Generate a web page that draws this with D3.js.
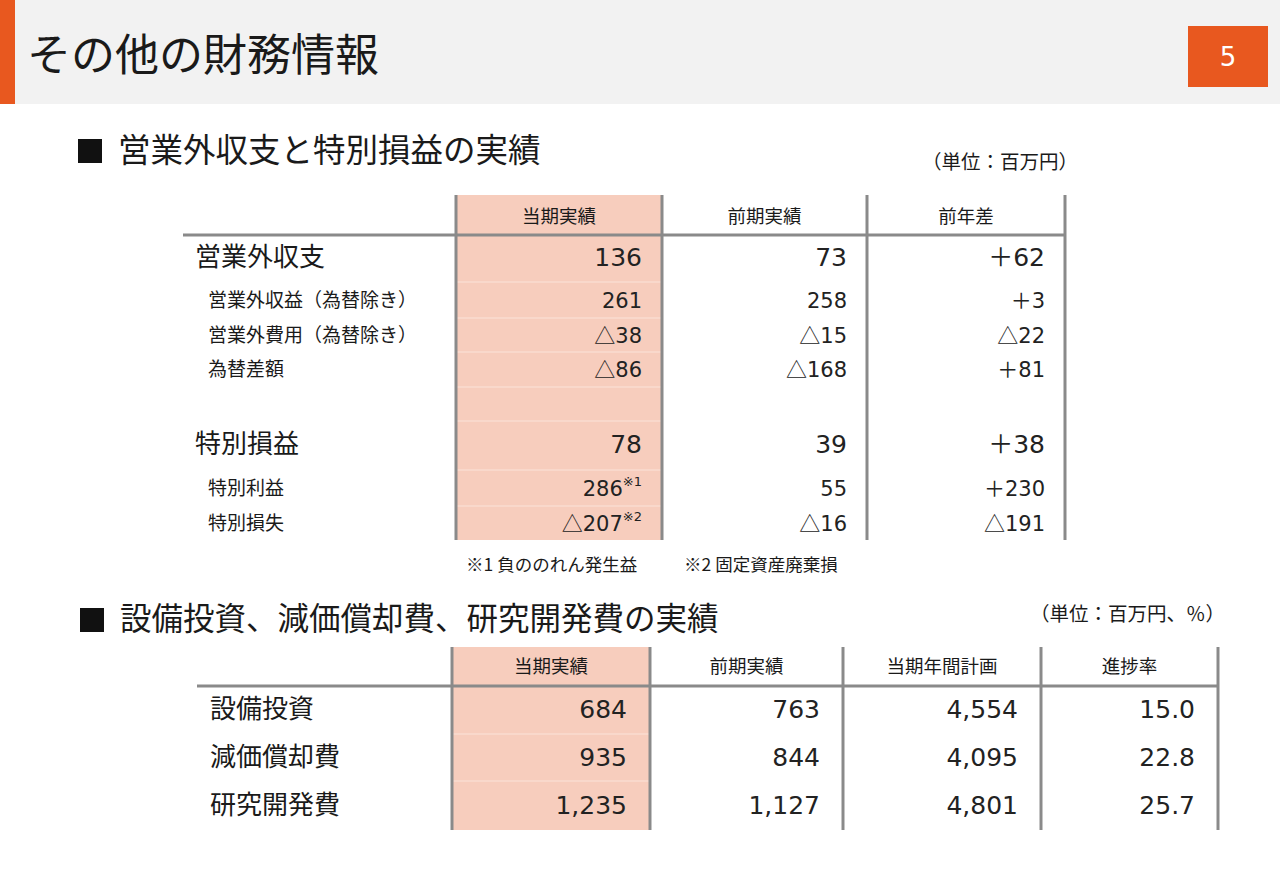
<!DOCTYPE html>
<html lang="ja">
<head>
<meta charset="utf-8">
<script src="https://cdn.jsdelivr.net/npm/d3@7"></script>
<style>
  html, body { margin: 0; padding: 0; background: #fff; }
  svg { display: block; }
  text { font-family: "Noto Sans CJK JP", "Noto Sans", sans-serif; fill: #1a1a1a; }
  .num { font-family: "DejaVu Sans", "Noto Sans CJK JP", sans-serif; }
  .cjk { font-family: "Noto Sans CJK JP", sans-serif; }
</style>
</head>
<body>
<svg id="chart" width="1280" height="886"></svg>
<script>
// ---------- data ----------
const pageTitle = "その他の財務情報";
const pageNumber = "5";

const t1Title = "営業外収支と特別損益の実績";
const t1Unit = "（単位：百万円）";
const t1Columns = ["当期実績", "前期実績", "前年差"];
const t1Rows = ["営業外収支", "営業外収益（為替除き）", "営業外費用（為替除き）", "為替差額", "", "特別損益", "特別利益", "特別損失"];
const t1RowKind = ["total", "item", "item", "item", "blank", "total", "item", "item"];
const t1Current = [136, 261, -38, -86, null, 78, 286, -207];
const t1Prior = [73, 258, -15, -168, null, 39, 55, -16];
const t1Diff = [62, 3, -22, 81, null, 38, 230, -191];
const t1Marks = ["", "", "", "", "", "", "※1", "※2"];
const t1Footnotes = ["※1 負ののれん発生益", "※2 固定資産廃棄損"];

const t2Title = "設備投資、減価償却費、研究開発費の実績";
const t2Unit = "（単位：百万円、％）";
const t2Columns = ["当期実績", "前期実績", "当期年間計画", "進捗率"];
const t2Rows = ["設備投資", "減価償却費", "研究開発費"];
const t2Current = [684, 935, 1235];
const t2Prior = [763, 844, 1127];
const t2Plan = [4554, 4095, 4801];
const t2Progress = [15.0, 22.8, 25.7];

// ---------- formatting ----------
const fmtInt = d3.format(",");
const fmtRate = d3.format(".1f");
// returns [prefix, digits]
const fmtSigned = v => v < 0 ? ["△", fmtInt(-v)] : ["", fmtInt(v)];
const fmtDiff = v => v < 0 ? ["△", fmtInt(-v)] : ["＋", fmtInt(v)];

// ---------- style ----------
const ORANGE = "#e8581f";
const PEACH = "#f7cdbd";
const LINE = "#8a8a8a";

const svg = d3.select("#chart");

// ---------- header band ----------
svg.append("rect").attr("x", 0).attr("y", 0).attr("width", 1280).attr("height", 104).attr("fill", "#f2f2f2");
svg.append("rect").attr("x", 0).attr("y", 0).attr("width", 15).attr("height", 104).attr("fill", ORANGE);
svg.append("text").attr("x", 27).attr("y", 71).attr("font-size", 44).text(pageTitle);
svg.append("rect").attr("x", 1188).attr("y", 26).attr("width", 80).attr("height", 61).attr("fill", ORANGE);
svg.append("text").attr("x", 1228).attr("y", 57).attr("dy", "0.35em").attr("text-anchor", "middle")
  .attr("font-size", 26).style("fill", "#fff").attr("class", "num").text(pageNumber);

// ---------- section titles ----------
function sectionTitle(x, y, txt, size) {
  svg.append("rect").attr("x", x).attr("y", y - 11).attr("width", 24).attr("height", 24).attr("fill", "#111");
  svg.append("text").attr("x", x + 40).attr("y", y).attr("dy", "0.36em").attr("font-size", size).text(txt);
}
sectionTitle(78, 150, t1Title, 32.5);
svg.append("text").attr("x", 1078).attr("y", 162).attr("dy", "0.35em").attr("text-anchor", "end").attr("font-size", 19.5).text(t1Unit);

sectionTitle(80, 619, t2Title, 31.5);
svg.append("text").attr("x", 1225).attr("y", 614).attr("dy", "0.35em").attr("text-anchor", "end").attr("font-size", 19.5).text(t2Unit);

function valueText(g, x, y, size, parts, mark) {
  const t = g.append("text").attr("class", "num")
    .attr("x", x).attr("y", y).attr("dy", "0.36em")
    .attr("text-anchor", "end").attr("font-size", size).style("fill", "#222");
  if (parts[0]) t.append("tspan").attr("class", "cjk").text(parts[0]);
  t.append("tspan").text(parts[1]);
  if (mark) t.append("tspan").attr("font-size", 13).attr("dy", "-0.75em").text(mark);
  return t;
}

// ---------- table 1 ----------
{
  const colX = d3.scaleOrdinal().domain(t1Columns).range([[456, 662], [662, 867], [867, 1065]]);
  const rowIdx = d3.range(t1Rows.length);
  const rowBand = d3.scaleOrdinal().domain(rowIdx).range([[235, 282], [282, 318], [318, 352], [352, 387], [387, 421], [421, 470], [470, 506], [506, 540]]);
  const headTop = 195, headBot = 235, bottom = 540;
  const mid = i => (rowBand(i)[0] + rowBand(i)[1]) / 2;

  const g = svg.append("g");
  const c0 = colX(t1Columns[0]);
  g.append("rect").attr("x", c0[0]).attr("y", headTop).attr("width", c0[1] - c0[0]).attr("height", bottom - headTop).attr("fill", PEACH);
  g.selectAll("line.sep").data(rowIdx.slice(1)).join("line")
    .attr("x1", c0[0]).attr("x2", c0[1]).attr("y1", i => rowBand(i)[0]).attr("y2", i => rowBand(i)[0])
    .attr("stroke", "#fbe3d9").attr("stroke-width", 1.2);

  g.selectAll("text.h").data(t1Columns).join("text")
    .attr("x", c => (colX(c)[0] + colX(c)[1]) / 2).attr("y", (headTop + headBot) / 2 + 1).attr("dy", "0.36em")
    .attr("text-anchor", "middle").attr("font-size", 18.5).text(c => c);

  g.selectAll("text.rl").data(rowIdx).join("text")
    .attr("x", i => t1RowKind[i] === "total" ? 195 : 208)
    .attr("y", i => mid(i) + (t1RowKind[i] === "total" ? -2 : 0)).attr("dy", "0.36em")
    .attr("font-size", i => t1RowKind[i] === "total" ? 26 : 19)
    .text(i => t1Rows[i]);

  const cols = [
    { name: t1Columns[0], vals: t1Current, f: fmtSigned, marks: true },
    { name: t1Columns[1], vals: t1Prior, f: fmtSigned },
    { name: t1Columns[2], vals: t1Diff, f: fmtDiff }
  ];
  cols.forEach(col => {
    const right = colX(col.name)[1] - 20;
    rowIdx.forEach(i => {
      if (col.vals[i] == null) return;
      const big = t1RowKind[i] === "total";
      valueText(g, right, mid(i) + (big ? -2 : 0), big ? 25 : 21, col.f(col.vals[i]), col.marks ? t1Marks[i] : "");
    });
  });

  g.append("line").attr("x1", 183).attr("x2", 1066).attr("y1", headBot).attr("y2", headBot).attr("stroke", LINE).attr("stroke-width", 3);
  const vx = [c0[0], ...t1Columns.map(c => colX(c)[1])];
  g.selectAll("line.v").data(vx).join("line")
    .attr("x1", d => d).attr("x2", d => d).attr("y1", headTop).attr("y2", bottom)
    .attr("stroke", LINE).attr("stroke-width", 3);

  g.selectAll("text.fn").data(t1Footnotes).join("text")
    .attr("x", (d, i) => i === 0 ? 466 : 684).attr("y", 565).attr("dy", "0.36em")
    .attr("font-size", 17.5).text(d => d);
}

// ---------- table 2 ----------
{
  const colX = d3.scaleOrdinal().domain(t2Columns).range([[452, 650], [650, 843], [843, 1041], [1041, 1218]]);
  const rowIdx = d3.range(t2Rows.length);
  const rowBand = d3.scaleOrdinal().domain(rowIdx).range([[686, 734], [734, 781], [781, 830]]);
  const headTop = 647, headBot = 686, bottom = 830;
  const mid = i => (rowBand(i)[0] + rowBand(i)[1]) / 2;

  const g = svg.append("g");
  const c0 = colX(t2Columns[0]);
  g.append("rect").attr("x", c0[0]).attr("y", headTop).attr("width", c0[1] - c0[0]).attr("height", bottom - headTop).attr("fill", PEACH);
  g.selectAll("line.sep").data(rowIdx.slice(1)).join("line")
    .attr("x1", c0[0]).attr("x2", c0[1]).attr("y1", i => rowBand(i)[0]).attr("y2", i => rowBand(i)[0])
    .attr("stroke", "#fbe3d9").attr("stroke-width", 1.2);

  g.selectAll("text.h").data(t2Columns).join("text")
    .attr("x", c => (colX(c)[0] + colX(c)[1]) / 2).attr("y", (headTop + headBot) / 2).attr("dy", "0.36em")
    .attr("text-anchor", "middle").attr("font-size", 18.5).text(c => c);

  g.selectAll("text.rl").data(rowIdx).join("text")
    .attr("x", 210).attr("y", i => mid(i) - 1).attr("dy", "0.36em")
    .attr("font-size", 26).text(i => t2Rows[i]);

  const cols = [
    { name: t2Columns[0], vals: t2Current, f: fmtInt },
    { name: t2Columns[1], vals: t2Prior, f: fmtInt },
    { name: t2Columns[2], vals: t2Plan, f: fmtInt },
    { name: t2Columns[3], vals: t2Progress, f: fmtRate }
  ];
  cols.forEach(col => {
    const right = colX(col.name)[1] - 23;
    rowIdx.forEach(i => valueText(g, right, mid(i) - 1, 25, ["", col.f(col.vals[i])], ""));
  });

  g.append("line").attr("x1", 197).attr("x2", 1219).attr("y1", headBot).attr("y2", headBot).attr("stroke", LINE).attr("stroke-width", 3);
  const vx = [c0[0], ...t2Columns.map(c => colX(c)[1])];
  g.selectAll("line.v").data(vx).join("line")
    .attr("x1", d => d).attr("x2", d => d).attr("y1", headTop).attr("y2", bottom)
    .attr("stroke", LINE).attr("stroke-width", 3);
}
</script>
</body>
</html>
